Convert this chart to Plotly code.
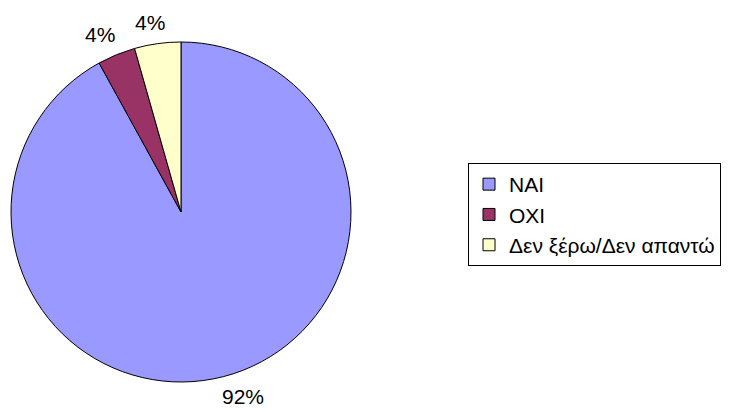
import math
import plotly.graph_objects as go

labels = ['NAI', 'OXI', 'Δεν ξέρω/Δεν απαντώ']
values = [92.0, 3.6, 4.4]
colors = ['#9999FF', '#993366', '#FFFFCC']

# page body has an 8px margin, so work in figure coords shifted by it
OFF = 8
W, H = 734 - OFF, 410 - OFF
cx, cy, r = 181 - OFF, 212 - OFF, 170
label_size = 21

fig = go.Figure(go.Pie(
    labels=labels, values=values, sort=False, direction='clockwise', rotation=0,
    marker=dict(colors=colors, line=dict(color='black', width=1)),
    textinfo='none', hoverinfo='label+percent',
    domain=dict(x=[(cx - r) / W, (cx + r) / W], y=[(H - cy - r) / H, (H - cy + r) / H]),
))

# percentage labels outside the pie, placed like Excel does (box touching a ring)
total = sum(values)
start = 0
for v in values:
    mid = (start + v / 2) / total * 2 * math.pi
    start += v
    s, c = math.sin(mid), math.cos(mid)
    txt = f"{round(v / total * 100)}%"
    w = len(txt) * 0.6 * label_size
    h = label_size
    px = cx + (r + 11) * s + max(-1, min(1, 3.7 * s)) * w / 2
    py = cy - (r + 11) * c - max(-1, min(1, 3.7 * c)) * h / 2
    py = min(py, H - h / 2 - 3)
    fig.add_annotation(x=px / W, y=(H - py) / H, xref='paper', yref='paper',
                       text=txt, showarrow=False, xanchor='center', yanchor='middle',
                       font=dict(size=label_size, color='black'))

fig.update_layout(
    width=W, height=H, margin=dict(l=0, r=0, t=0, b=0),
    paper_bgcolor='white', plot_bgcolor='white',
    font=dict(family='Liberation Sans, Arial', color='black'),
    legend=dict(x=(468 - OFF) / W, y=(H - (163 - OFF)) / H, xanchor='left', yanchor='top',
                bordercolor='black', borderwidth=1, bgcolor='white',
                font=dict(size=21), tracegroupgap=0),
)

fig.write_html("out.html")
